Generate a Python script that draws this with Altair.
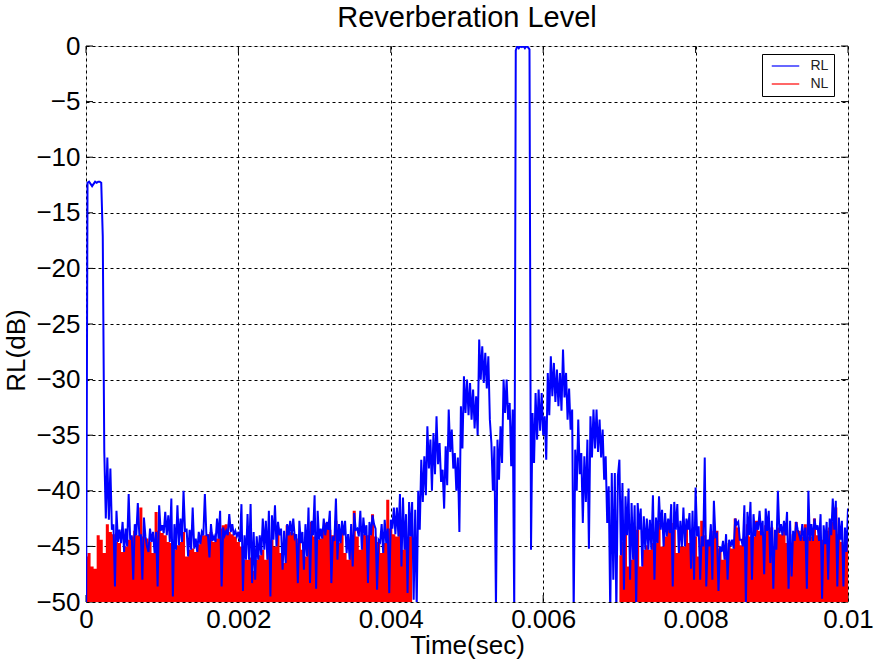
import altair as alt
import pandas as pd

# Sample spacing of the two traces (seconds)
RL_STEP = 0.00002
NL_STEP = 0.00004
NL_LATE_START = 0.007

# Reverberation level (dB): transmit pulse at the start
rl_onset = [-55.0, -12.3, -12.2, -12.4, -12.6, -12.4, -12.2, -12.3, -12.2, -12.2,
            -12.3, -17.1, -36.5, -42.5, -37.0, -42.6, -38.0, -43.5]

# Reverberation level: noise floor before the echo (peak / trough pairs)
rl_noise_early = [
    -43.0, -48.6, -41.8, -44.6, -43.5, -44.7, -42.8, -45.5, -43.4, -45.0,
    -40.3, -44.4, -44.0, -48.0, -43.0, -44.0, -41.1, -44.0, -44.0, -48.0,
    -42.4, -44.1, -45.0, -45.5, -43.4, -44.6, -43.7, -45.6, -43.7, -48.6,
    -41.3, -43.6, -43.1, -43.8, -41.9, -44.0, -42.2, -44.6, -40.7, -49.5,
    -43.0, -45.3, -41.3, -44.9, -42.5, -44.6, -40.0, -43.7, -43.4, -45.9,
    -43.5, -45.3, -41.5, -45.2, -44.3, -45.5, -43.7, -44.8, -43.7, -44.0,
    -40.3, -44.0, -44.0, -46.0, -43.0, -44.5, -44.1, -44.6, -42.5, -44.3,
    -41.8, -48.6, -43.3, -44.0, -43.6, -44.0, -42.1, -43.7, -43.0, -44.0,
    -43.6, -44.1, -43.7, -44.6, -41.2, -49.0, -44.0, -46.2, -42.1, -46.2,
    -41.2, -48.3, -43.7, -48.0, -44.1, -46.2, -44.0, -45.8, -42.5, -45.3,
    -42.7, -46.2, -41.8, -49.5, -42.2, -44.4, -41.3, -45.0, -42.8, -44.0,
    -43.4, -47.1, -43.6, -46.5, -43.0, -44.0, -42.7, -44.0, -42.5, -44.2,
    -43.9, -48.3, -42.7, -44.7, -43.7, -47.1, -43.0, -45.9, -41.5, -48.3,
    -42.7, -44.0, -40.4, -48.8, -41.8, -44.4, -43.4, -44.3, -42.5, -44.0,
    -42.8, -43.5, -41.8, -48.3, -44.1, -44.5, -40.7, -46.2, -43.0, -44.7,
    -42.7, -44.0, -42.7, -45.6, -43.9, -46.2, -43.0, -46.8, -42.0, -43.5,
    -43.4, -44.1, -41.8, -45.3, -42.4, -44.0, -43.1, -48.3, -42.8, -44.0,
    -42.2, -43.0, -43.4, -48.9, -44.4, -44.6, -43.0, -45.6, -42.6, -44.7,
    -43.4, -49.2, -42.6, -43.4, -41.5, -43.9, -41.5, -44.1, -40.3, -46.8,
    -40.6, -45.3, -42.1, -49.2, -41.0, -44.1, -41.0, -49.8,
]

# Reverberation level: echo, direct path pulse at about 5.7 ms
rl_echo = [
    -41.7, -50.5, -40.0, -43.5, -37.2, -41.0, -36.9, -40.4, -34.2, -38.0,
    -35.4, -40.0, -34.8, -38.5, -33.3, -37.6, -35.7, -39.2, -38.1, -41.6,
    -36.0, -39.5, -32.7, -36.5, -34.5, -38.0, -36.6, -40.0, -37.0, -43.7,
    -32.4, -36.2, -29.7, -33.0, -30.0, -33.2, -30.3, -33.6, -30.9, -34.4,
    -31.5, -35.0, -26.4, -30.0, -27.0, -30.3, -27.6, -30.8, -27.9, -33.6,
    -35.7, -40.0, -36.0, -50.5, -35.4, -39.0, -34.2, -37.5, -30.0, -33.0,
    -30.0, -33.6, -32.1, -37.8,
    -32.7, -51.0,
    -0.4, 0.0, -0.2, 0.0, -0.1, 0.0, -0.2, 0.0, -0.1, -0.3,
    -45.3,
    -33.0, -37.5, -31.2, -35.4, -30.9, -34.6, -31.2, -35.0, -33.3, -37.2,
    -29.4, -33.2, -27.9, -31.5, -28.5, -32.0, -29.1, -32.4, -29.4, -32.8,
    -27.3, -31.6, -29.4, -33.6, -30.8, -34.5, -32.7, -51.0, -36.3, -40.0,
    -33.6, -38.5, -36.6, -42.9, -36.9, -41.0, -35.4, -45.2, -33.3, -37.0,
    -32.7, -36.2, -32.7, -36.5, -33.6, -37.0, -34.5, -39.0, -36.9, -42.9,
    -39.6, -51.0, -38.4, -48.0, -38.4, -51.0, -38.7,
]

# Reverberation level: noise floor after the echo
rl_noise_late = [
    -37.2, -45.8, -39.3, -48.9, -40.5, -44.0, -39.8, -48.0, -41.1, -46.2,
    -41.3, -50.5, -41.1, -43.5, -41.6, -46.8, -42.3, -45.3, -42.5, -45.3,
    -42.6, -45.3, -40.4, -48.0, -42.4, -44.7, -40.5, -43.5, -41.7, -45.0,
    -42.0, -44.1, -42.5, -43.8, -41.2, -48.6, -41.0, -43.5, -41.2, -45.6,
    -42.7, -45.0, -41.5, -45.0, -42.5, -43.5, -42.0, -47.0, -41.8, -48.0,
    -39.7, -44.1, -43.2, -48.0, -44.1, -45.0, -37.0, -48.6, -44.4, -45.0,
    -43.0, -48.0, -40.9, -44.1, -43.9, -49.0, -45.0, -45.5, -44.5, -46.2,
    -43.9, -48.0, -44.4, -45.0, -44.4, -45.2, -42.5, -43.0, -42.8, -44.4,
    -44.4, -45.0, -41.3, -50.2, -41.9, -44.0, -41.0, -48.0, -42.1, -44.1,
    -42.8, -43.5, -41.8, -44.0, -42.7, -47.5, -41.6, -43.6, -41.8, -46.5,
    -42.7, -48.8, -43.5, -45.3, -40.0, -43.8, -43.0, -44.0, -42.7, -44.0,
    -41.9, -48.8, -42.7, -47.7, -43.6, -44.5, -42.8, -43.5, -44.0, -44.5,
    -43.0, -44.5, -43.3, -48.8, -40.0, -44.5, -43.0, -44.5, -42.5, -43.5,
    -43.1, -44.5, -42.1, -49.7, -43.1, -44.8, -42.8, -48.0, -42.5, -44.0,
    -40.7, -43.5, -40.9, -48.6, -42.4, -44.4, -42.7, -48.6, -43.3, -45.5,
    -41.6,
]

# Noise level (dB), before and after the echo window
nl_early = [
    -45.9, -45.6, -46.8, -47.0, -44.0, -44.4, -45.6, -43.0, -43.7, -43.9,
    -44.6, -44.7, -45.5, -45.0, -44.4, -44.1, -43.6, -44.0, -41.5, -44.1,
    -44.3, -44.6, -45.6, -41.9, -43.6, -43.8, -44.0, -44.6, -44.7, -45.3,
    -44.9, -44.6, -43.7, -45.9, -45.3, -45.2, -45.5, -44.8, -44.0, -44.0,
    -43.9, -43.7, -44.6, -44.3, -43.4, -43.1, -43.0, -43.7, -43.9, -44.1,
    -44.6, -45.0, -46.2, -46.2, -46.0, -47.2, -46.2, -45.8, -45.3, -46.2,
    -45.0, -44.4, -45.0, -43.3, -45.6, -46.5, -43.1, -43.7, -43.8, -44.3,
    -44.7, -45.3, -45.9, -44.7, -42.8, -44.1, -44.4, -44.3, -43.4, -42.9,
    -43.5, -44.0, -42.7, -44.7, -43.4, -45.6, -46.2, -44.1, -41.8, -44.1,
    -45.3, -43.9, -44.0, -44.0, -42.1, -44.1, -44.6, -45.6, -44.7, -40.8,
    -43.4, -43.9, -44.1, -43.1, -45.3, -44.6, -44.1, -43.9,
]
nl_late = [
    -45.8, -44.6, -43.8, -46.8, -46.2, -43.2, -43.5, -46.8, -45.3, -44.9,
    -45.3, -44.7, -44.7, -42.9, -45.0, -44.1, -43.2, -42.9, -43.5, -45.6,
    -45.0, -45.0, -43.2, -44.7, -43.4, -44.1, -45.9, -42.7, -44.0, -44.4,
    -44.1, -43.6, -43.6, -45.2, -46.2, -45.9, -44.7, -45.2, -42.5, -43.3,
    -44.9, -44.1, -43.0, -44.1, -44.1, -42.7, -43.6, -43.9, -43.1, -43.6,
    -43.3, -45.0, -43.3, -43.9, -43.4, -44.7, -44.7, -43.9, -42.8, -43.6,
    -44.1, -43.0, -44.1, -44.1, -42.5, -44.0, -44.4, -44.4, -43.6, -43.3,
    -42.8, -41.5, -43.9, -44.6, -45.3, -44.1,
]

x_ticks = [0, 0.002, 0.004, 0.006, 0.008, 0.01]
y_ticks = [-50, -45, -40, -35, -30, -25, -20, -15, -10, -5, 0]

X_DOMAIN = [0, 0.01]
Y_DOMAIN = [-50, 0]
PLOT_W, PLOT_H = 762, 556
TICK_PX = 7

rl_all = rl_onset + rl_noise_early + rl_echo + rl_noise_late
rl_df = pd.DataFrame({
    "t": [round(i * RL_STEP, 7) for i in range(len(rl_all))],
    "level": rl_all,
    "series": "RL",
})
nl_df = pd.concat([
    pd.DataFrame({"t": [round(i * NL_STEP, 7) for i in range(len(nl_early))],
                  "level": nl_early, "seg": "early"}),
    pd.DataFrame({"t": [round(NL_LATE_START + i * NL_STEP, 7) for i in range(len(nl_late))],
                  "level": nl_late, "seg": "late"}),
])

# Inward tick marks on all four sides of the box
tx = (X_DOMAIN[1] - X_DOMAIN[0]) * TICK_PX / PLOT_W
ty = (Y_DOMAIN[1] - Y_DOMAIN[0]) * TICK_PX / PLOT_H
ytick_df = pd.DataFrame(
    [{"t": X_DOMAIN[0], "t2": X_DOMAIN[0] + tx, "level": v} for v in y_ticks]
    + [{"t": X_DOMAIN[1] - tx, "t2": X_DOMAIN[1], "level": v} for v in y_ticks]
)
xtick_df = pd.DataFrame(
    [{"t": v, "level": Y_DOMAIN[0], "level2": Y_DOMAIN[0] + ty} for v in x_ticks]
    + [{"t": v, "level": Y_DOMAIN[1] - ty, "level2": Y_DOMAIN[1]} for v in x_ticks]
)

FONT = "Liberation Sans"

x_scale = alt.Scale(domain=X_DOMAIN, nice=False, zero=False)
y_scale = alt.Scale(domain=Y_DOMAIN, nice=False, zero=False)

grid_style = dict(grid=True, gridColor="black", gridDash=[3, 3], gridWidth=1,
                  gridOpacity=1, ticks=False, domain=False,
                  labelFlush=False, labelOverlap=False,
                  labelFont=FONT, labelFontSize=26, labelColor="black",
                  titleFont=FONT, titleFontSize=26, titleFontWeight="normal",
                  titleColor="black")

x_axis = alt.Axis(values=x_ticks, format="~g", title="Time(sec)",
                  labelPadding=4, titlePadding=0, **grid_style)
y_axis = alt.Axis(values=y_ticks, format="d", title="RL(dB)",
                  labelPadding=6, titlePadding=6, titleY=304, **grid_style)

X = alt.X("t:Q", scale=x_scale, axis=x_axis)
Y = alt.Y("level:Q", scale=y_scale, axis=y_axis)

ytick_marks = alt.Chart(ytick_df).mark_rule(color="black", strokeWidth=1).encode(
    x=X, x2="t2:Q", y=Y)
xtick_marks = alt.Chart(xtick_df).mark_rule(color="black", strokeWidth=1).encode(
    x=X, y=Y, y2="level2:Q")

noise = alt.Chart(nl_df).mark_area(color="#ff0000", interpolate="step", clip=True).encode(
    x=X, y=Y, y2=alt.datum(-50), detail="seg:N",
)

reverb = alt.Chart(rl_df).mark_line(strokeWidth=2, clip=True).encode(
    x=X, y=Y,
    color=alt.Color(
        "series:N",
        scale=alt.Scale(domain=["RL", "NL"], range=["#0000ff", "#ff0000"]),
        legend=alt.Legend(
            title=None, orient="none", legendX=676, legendY=8,
            strokeColor="black", fillColor="white", padding=5,
            symbolType="M-2.5,0H2.5", symbolSize=121, symbolStrokeWidth=1.2,
            symbolOffset=11.5,
            labelFont=FONT, labelFontSize=14, labelColor="#222222",
            labelOffset=18, rowPadding=4,
        ),
    ),
)

chart = alt.layer(ytick_marks, xtick_marks, noise, reverb).properties(
    width=PLOT_W,
    height=PLOT_H,
    autosize=alt.AutoSizeParams(type="none"),
    padding={"left": 86, "top": 46, "right": 28, "bottom": 61},
    title=alt.TitleParams("Reverberation Level", font=FONT, fontSize=29,
                          fontWeight="normal", color="black", offset=0,
                          anchor="middle"),
).configure_view(stroke="black", strokeWidth=1).configure(background="white")

chart.save("out.html", embed_options={"renderer": "svg", "actions": False})
